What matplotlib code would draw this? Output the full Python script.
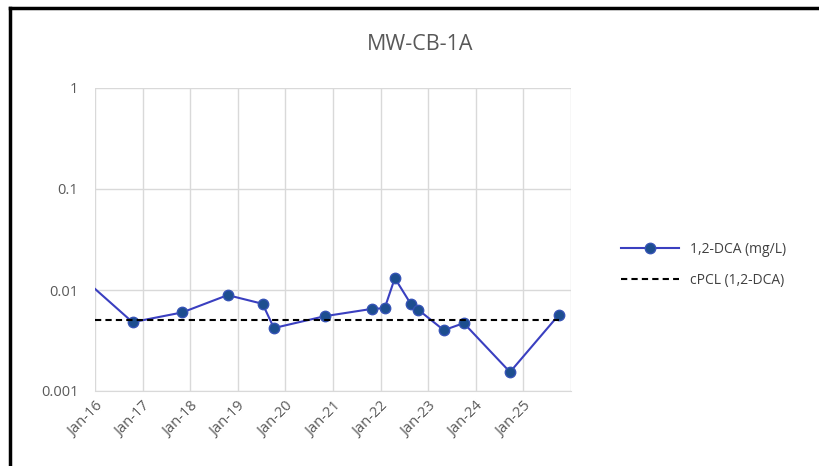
import matplotlib
matplotlib.use("Agg")
import matplotlib.pyplot as plt
import matplotlib.dates as mdates
from matplotlib.ticker import FixedLocator, FixedFormatter, NullLocator
from matplotlib.lines import Line2D
from datetime import datetime

plt.rcParams['font.family'] = ['Open Sans', 'DejaVu Sans']

# Data
sample_dates = ["2015-10-15", "2016-10-15", "2017-11-01", "2018-10-15", "2019-07-10",
                "2019-10-05", "2020-10-28", "2021-10-25", "2022-02-01", "2022-04-20",
                "2022-08-20", "2022-10-15", "2023-05-01", "2023-10-01", "2024-09-20",
                "2025-10-01"]
dca_values = [0.0126, 0.0048, 0.0060, 0.0089, 0.0073, 0.0042, 0.0055, 0.0065, 0.0066,
              0.0131, 0.0073, 0.0064, 0.0040, 0.0047, 0.00154, 0.0057]
cpcl_dates = ["2016-01-01", "2025-10-01"]
cpcl_values = [0.005, 0.005]
tick_labels = ["Jan-16", "Jan-17", "Jan-18", "Jan-19", "Jan-20", "Jan-21",
               "Jan-22", "Jan-23", "Jan-24", "Jan-25"]
y_ticks = [0.001, 0.01, 0.1, 1]
y_tick_labels = ["0.001", "0.01", "0.1", "1"]

dates = [datetime.strptime(d, "%Y-%m-%d") for d in sample_dates]
cdates = [datetime.strptime(d, "%Y-%m-%d") for d in cpcl_dates]

fig = plt.figure(figsize=(8.19, 4.66), dpi=100)
ax = fig.add_axes([95/819, 1-391/466, (571-95)/819, (391-88)/466])

ax.plot(dates, dca_values, color='#3a3fc0', lw=1.5, marker='o', markersize=7.5,
        markerfacecolor='#1d4e8f', markeredgecolor='#3553b5', markeredgewidth=1,
        label='1,2-DCA (mg/L)', zorder=3)
ax.plot(cdates, cpcl_values, color='black', lw=1.5, ls=(0, (3, 2)),
        label='cPCL (1,2-DCA)', zorder=4)

ax.set_yscale('log')
ax.set_ylim(0.001, 1)
ax.yaxis.set_major_locator(FixedLocator(y_ticks))
ax.yaxis.set_major_formatter(FixedFormatter(y_tick_labels))
ax.yaxis.set_minor_locator(NullLocator())

xmin = datetime(2016, 1, 1)
xmax = datetime(2026, 1, 1)
ax.set_xlim(xmin, xmax)
grid_years = [datetime(y, 1, 1) for y in range(2016, 2027)]
ax.xaxis.set_major_locator(FixedLocator(mdates.date2num(grid_years)))
ax.xaxis.set_major_formatter(FixedFormatter(tick_labels + [""]))
ax.xaxis.set_minor_locator(NullLocator())

ax.grid(True, which='major', color='#d9d9d9', lw=1)
ax.set_axisbelow(True)
for s in ['top', 'right', 'left']:
    ax.spines[s].set_visible(False)
ax.spines['bottom'].set_color('#d9d9d9')
ax.tick_params(axis='both', length=0, colors='#595959', labelsize=10.5)
ax.tick_params(axis='y', pad=12)
ax.tick_params(axis='x', pad=6)
for lbl in ax.get_xticklabels():
    lbl.set_rotation(45)
    lbl.set_ha('right')
    lbl.set_rotation_mode('anchor')

fig.text(420/819, 1-45/466, 'MW-CB-1A', ha='center', va='center', fontsize=15.5, color='#595959')

leg = fig.legend(loc='center left', bbox_to_anchor=(608/819, 1-265/466), frameon=False,
                 fontsize=10, labelcolor='#404040', handlelength=4.2, labelspacing=1.2)

# border (left and top only, as in the cropped reference)
fig.add_artist(Line2D([9.5/819, 9.5/819], [0, 1-7.5/466], transform=fig.transFigure,
                      color='black', lw=2.5, solid_capstyle='projecting'))
fig.add_artist(Line2D([9.5/819, 1], [1-7.5/466, 1-7.5/466], transform=fig.transFigure,
                      color='black', lw=2.5, solid_capstyle='projecting'))

fig.savefig('out.png', dpi=100)
